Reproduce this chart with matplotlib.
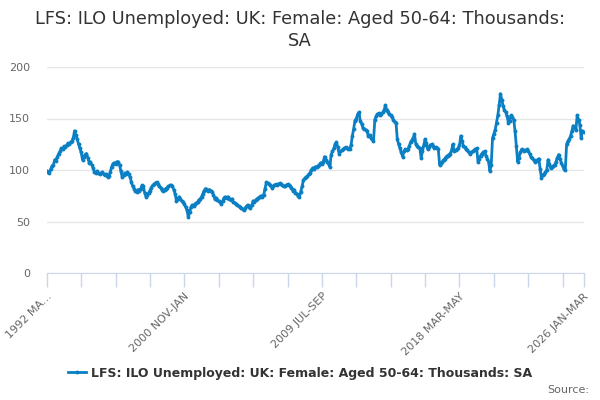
import matplotlib.pyplot as plt
import numpy as np

# Monthly rolling quarters, 1992 MAR-MAY .. 2026 JAN-MAR (thousands, SA)
values = [
    99, 98, 97, 101, 104, 105, 110, 109, 113, 116,
    118, 121, 120, 123, 122, 124, 126, 125, 127, 128,
    131, 138, 134, 130, 125, 121, 117, 110, 113, 115,
    116, 112, 107, 108, 105, 102, 98, 97, 99, 97,
    96, 97, 98, 96, 95, 96, 93, 94, 98, 103,
    106, 107, 106, 108, 108, 105, 99, 93, 95, 97,
    96, 98, 96, 93, 88, 84, 82, 80, 79, 81,
    80, 82, 85, 84, 78, 74, 76, 78, 80, 83,
    85, 86, 87, 88, 86, 84, 83, 81, 80, 81,
    82, 83, 84, 85, 85, 84, 81, 77, 70, 72,
    74, 72, 70, 69, 67, 64, 61, 54, 59, 64,
    66, 65, 67, 68, 69, 71, 72, 74, 77, 80,
    82, 81, 80, 81, 80, 79, 76, 72, 73, 71,
    70, 69, 67, 70, 73, 74, 73, 74, 72, 71,
    72, 69, 68, 67, 66, 65, 64, 63, 62, 61,
    63, 65, 66, 64, 63, 66, 70, 69, 71, 72,
    73, 74, 75, 74, 76, 82, 88, 87, 86, 85,
    83, 84, 85, 86, 85, 86, 87, 86, 85, 84,
    84, 85, 86, 85, 84, 83, 80, 81, 78, 77,
    75, 74, 79, 84, 90, 92, 93, 94, 96, 97,
    100, 102, 101, 103, 103, 104, 105, 107, 106, 108,
    113, 110, 108, 106, 103, 115, 118, 121, 125, 127,
    122, 116, 118, 119, 120, 121, 122, 121, 120, 120,
    124, 133, 140, 148, 150, 154, 156, 148, 145, 141,
    140, 139, 138, 133, 134, 131, 130, 128, 149, 152,
    154, 155, 153, 154, 156, 158, 163, 158, 156, 154,
    153, 151, 149, 147, 146, 130, 125, 121, 117, 113,
    118, 120, 119, 120, 123, 127, 129, 131, 135, 125,
    123, 122, 121, 112, 118, 124, 130, 126, 120, 122,
    124, 125, 123, 121, 122, 121, 120, 105, 107, 108,
    110, 111, 113, 114, 115, 116, 119, 125, 118, 119,
    120, 121, 124, 133, 128, 123, 122, 120, 119, 117,
    116, 117, 118, 119, 120, 121, 108, 111, 114, 116,
    117, 118, 114, 111, 108, 99, 105, 131, 135, 139,
    146, 153, 163, 174, 168, 162, 158, 156, 152, 146,
    148, 153, 151, 149, 138, 123, 108, 112, 117, 120,
    119, 118, 119, 120, 118, 116, 113, 112, 110, 108,
    109, 110, 111, 101, 92, 95, 96, 98, 100, 110,
    106, 102, 103, 104, 105, 108, 112, 115, 111, 107,
    104, 101, 100, 125, 128, 130, 133, 138, 143, 141,
    139, 153, 149, 144, 131, 138, 137,
]
label_pos = [0, 104, 208, 312, 406]
label_text = ["1992 MA...", "2000 NOV-JAN", "2009 JUL-SEP", "2018 MAR-MAY", "2026 JAN-MAR"]
y_ticks = [0, 50, 100, 150, 200]
series_name = "LFS: ILO Unemployed: UK: Female: Aged 50-64: Thousands: SA"

line_col = "#0b7fc4"
x = np.arange(len(values))

fig = plt.figure(figsize=(6, 4), dpi=100)
ax = fig.add_axes([0.078, 0.3175, 0.895, 0.515])

ax.plot(x, values, color=line_col, lw=2, marker="o", ms=2.8,
        markeredgewidth=0, label=series_name)

ax.set_xlim(0, len(values) - 1)
ax.set_ylim(0, 200)
ax.set_yticks(y_ticks)
ax.grid(axis="y", color="#e6e6e6", lw=1)
ax.set_axisbelow(True)

# minor ticks every 26 months, labels every 104
ax.set_xticks(list(range(0, 391, 26)) + [406], minor=True)
ax.set_xticks(label_pos)
ax.set_xticklabels(label_text, rotation=45, ha="right", rotation_mode="anchor")
ax.tick_params(axis="x", which="both", length=10, width=1, color="#ccd6eb",
               labelsize=8, labelcolor="#666666", pad=3)
ax.tick_params(axis="y", length=0, labelsize=8, labelcolor="#666666", pad=12)

for s in ["top", "right", "left"]:
    ax.spines[s].set_visible(False)
ax.spines["bottom"].set_color("#ccd6eb")

fig.text(0.5, 0.925, "LFS: ILO Unemployed: UK: Female: Aged 50-64: Thousands:\nSA",
         ha="center", va="center", fontsize=12.8, color="#333333", linespacing=1.25)

leg = fig.legend(loc="center", bbox_to_anchor=(0.5, 0.067), frameon=False,
                 prop={"size": 9, "weight": "bold"}, handlelength=1.4,
                 handletextpad=0.4, markerscale=1)
for t in leg.get_texts():
    t.set_color("#333333")

fig.text(0.982, 0.025, "Source:", ha="right", va="center", fontsize=8, color="#666666")

fig.savefig("out.png", dpi=100)
